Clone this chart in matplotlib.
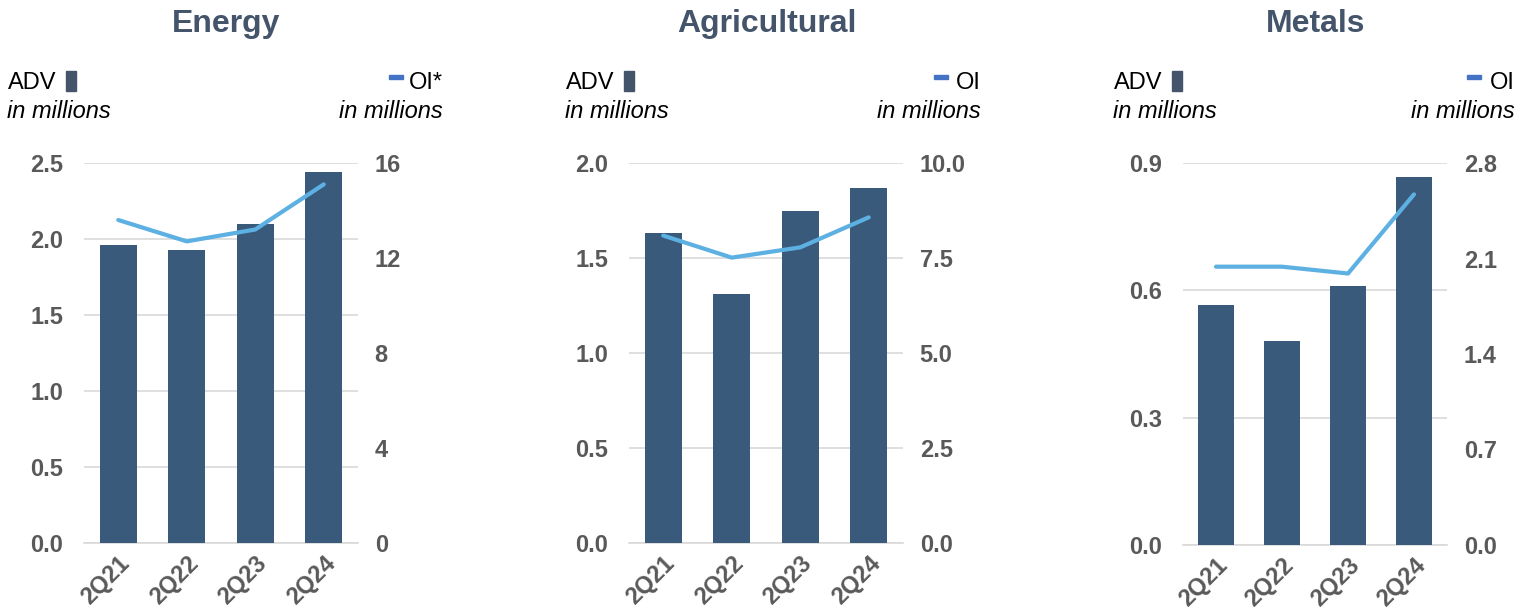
import numpy as np
import matplotlib.pyplot as plt
from matplotlib.patches import Rectangle

plt.rcParams['font.family'] = ['Liberation Sans', 'DejaVu Sans']

quarters = ['2Q21', '2Q22', '2Q23', '2Q24']

energy_adv = [1.96, 1.93, 2.10, 2.44]
energy_oi = [13.6, 12.7, 13.2, 15.1]
agri_adv = [1.63, 1.31, 1.75, 1.87]
agri_oi = [8.09, 7.51, 7.78, 8.57]
metals_adv = [0.565, 0.48, 0.61, 0.867]
metals_oi = [2.04, 2.04, 1.99, 2.57]

BAR_C = '#3A5A7C'
LINE_C = '#5DB0E2'
TICK_C = '#595959'
TITLE_C = '#44546A'
GRID_C = '#D9D9D9'
FS = 17

W, H = 1530, 610
fig = plt.figure(figsize=(W / 100, H / 100), dpi=100)


def px(x, y):
    return x / W, 1 - y / H


panels = [
    # title, adv, oi, left ticks, right ticks, fmt_l, fmt_r, axes px box, title x,
    # text x0, text x1, oi label, dash x
    ('Energy', energy_adv, energy_oi, np.arange(0, 2.51, 0.5), np.arange(0, 16.1, 4),
     '{:.1f}', '{:.0f}', (84, 163, 358, 543), 226, 8, 443, 'OI*', 389),
    ('Agricultural', agri_adv, agri_oi, np.arange(0, 2.01, 0.5), np.arange(0, 10.01, 2.5),
     '{:.1f}', '{:.1f}', (629, 163, 903, 543), 767, 566, 981, 'OI', 934),
    ('Metals', metals_adv, metals_oi, np.arange(0, 0.91, 0.3), np.arange(0, 2.81, 0.7),
     '{:.1f}', '{:.1f}', (1183, 163, 1447, 545), 1316, 1114, 1515, 'OI', 1467),
]

for (title, adv, oi, lt, rt, fl, fr, box, tx, x0, x1, oilab, dash_x) in panels:
    l, t, r, b = box
    ax = fig.add_axes([l / W, 1 - b / H, (r - l) / W, (b - t) / H])
    x = np.arange(len(quarters))
    ax.bar(x, adv, width=0.54, color=BAR_C, zorder=3)
    ax.set_xlim(-0.5, 3.5)
    ax.set_ylim(lt[0], lt[-1])
    ax.set_yticks(lt)
    ax.set_yticklabels([fl.format(v) for v in lt])
    ax.yaxis.grid(True, color=GRID_C, lw=1.2, zorder=0)
    for s in ['top', 'right', 'left']:
        ax.spines[s].set_visible(False)
    ax.spines['bottom'].set_color(GRID_C)
    ax.spines['bottom'].set_linewidth(1.2)
    ax.tick_params(axis='both', length=0, labelsize=FS, labelcolor=TICK_C)
    ax.tick_params(axis='y', pad=15)
    ax.tick_params(axis='x', pad=6)
    ax.set_xticks(x)
    ax.set_xticklabels(quarters, rotation=45, ha='right', rotation_mode='anchor',
                       fontweight='bold')
    for lab in ax.get_yticklabels():
        lab.set_fontweight('bold')

    ax2 = ax.twinx()
    ax2.plot(x, oi, color=LINE_C, lw=3, solid_capstyle='round', zorder=4)
    ax2.set_ylim(rt[0], rt[-1])
    ax2.set_yticks(rt)
    ax2.set_yticklabels([fr.format(v) for v in rt], fontweight='bold')
    ax2.tick_params(axis='y', length=0, labelsize=FS, labelcolor=TICK_C, pad=12)
    for s in ['top', 'right', 'left', 'bottom']:
        ax2.spines[s].set_visible(False)

    fig.text(*px(tx, 24), title, fontsize=23, fontweight='bold', color=TITLE_C,
             ha='center', va='center')
    fig.text(*px(x0, 83), 'ADV', fontsize=FS, ha='left', va='center', color='black')
    fig.text(*px(x0 - 1, 112), 'in millions', fontsize=FS, style='italic',
             ha='left', va='center', color='black')
    fig.text(*px(x1, 112), 'in millions', fontsize=FS, style='italic',
             ha='right', va='center', color='black')
    fig.text(*px(x1, 83), oilab, fontsize=FS, ha='right', va='center', color='black')
    # legend keys
    rx, ry = px(x0 + 58, 91)
    fig.patches.append(Rectangle((rx, ry), 10 / W, 20 / H, transform=fig.transFigure,
                                 color='#44546A', figure=fig))
    dx, dy = px(dash_x, 79)
    fig.patches.append(Rectangle((dx, dy), 14 / W, 4 / H, transform=fig.transFigure,
                                 color='#4472C4', figure=fig))

fig.savefig('out.png', dpi=100)
